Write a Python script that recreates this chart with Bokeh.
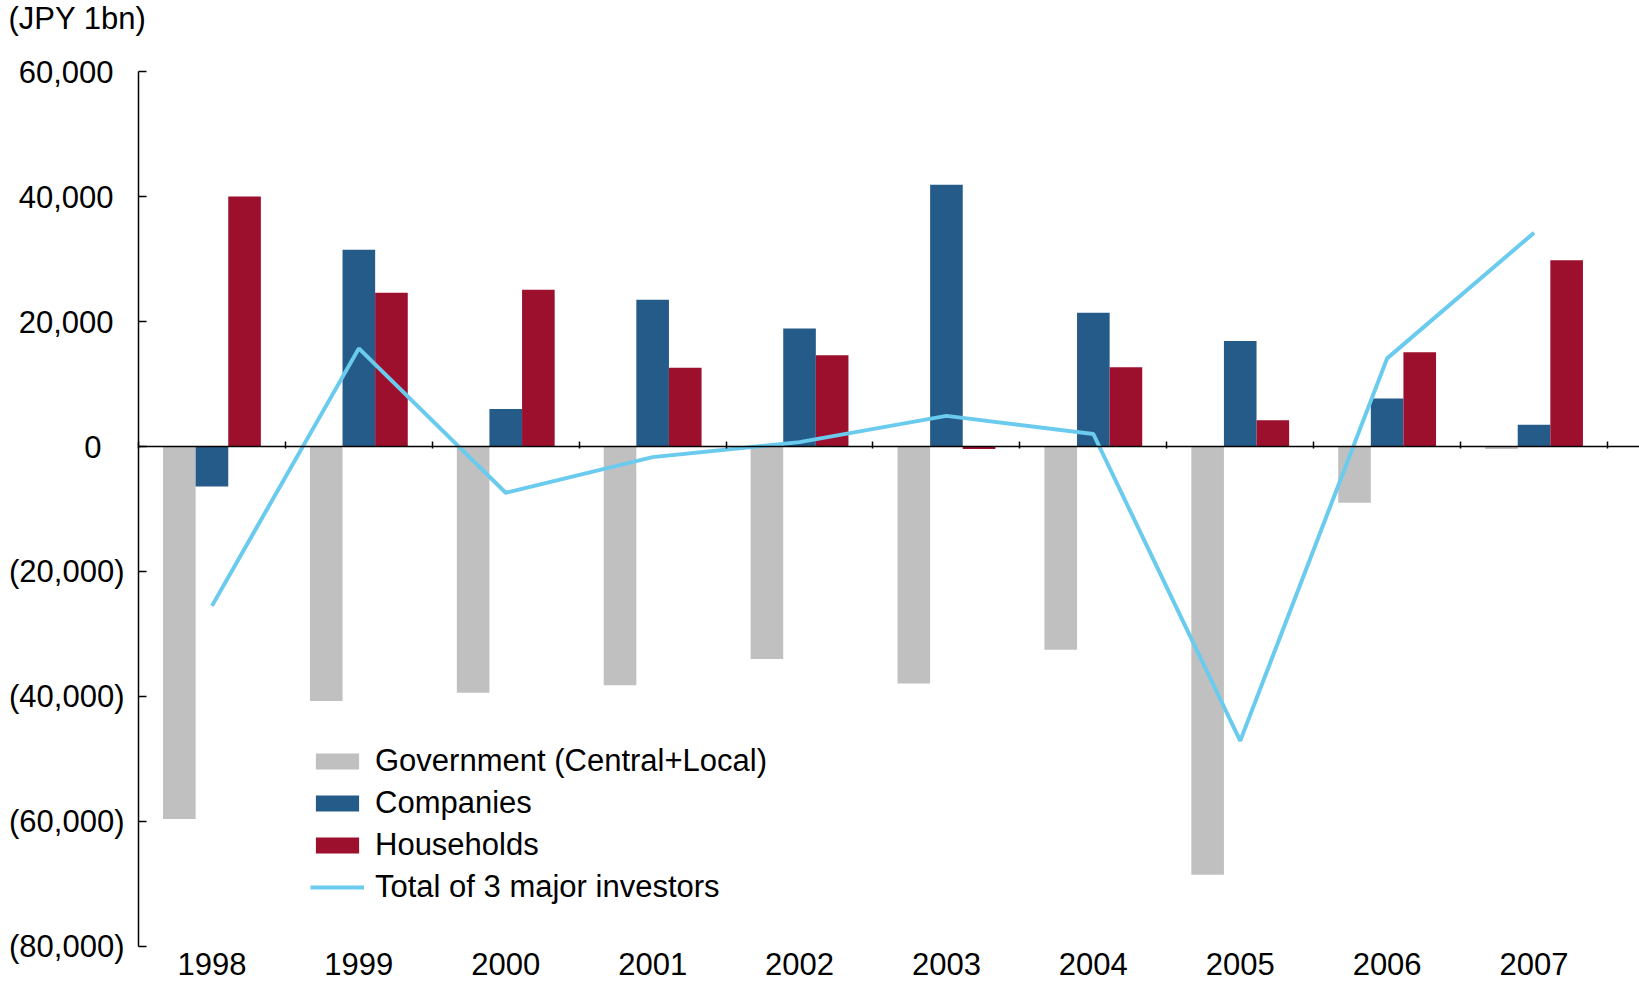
from bokeh.plotting import figure
from bokeh.models import (Range1d, LinearAxis, FixedTicker, Label, ColumnDataSource,
                          Legend, LegendItem)
from bokeh.transform import dodge
from bokeh.embed import file_html
from bokeh.resources import INLINE
import numpy as np

# ---- data (JPY 1bn) ----
years = ["1998", "1999", "2000", "2001", "2002", "2003", "2004", "2005", "2006", "2007"]
government = [-59600, -40700, -39400, -38200, -34000, -37900, -32500, -68500, -9000, -400]
companies = [-6400, 31500, 6000, 23500, 18900, 41900, 21400, 16900, 7700, 3500]
households = [40000, 24600, 25100, 12600, 14600, -400, 12700, 4200, 15100, 29800]
total = [-25500, 15700, -7400, -1700, 700, 4900, 2000, -47100, 14100, 34200]

y_ticks = [60000, 40000, 20000, 0, -20000, -40000, -60000, -80000]
y_tick_labels = ["60,000", "40,000", "20,000", "0", "(20,000)", "(40,000)", "(60,000)", "(80,000)"]
series_names = ["Government (Central+Local)", "Companies", "Households", "Total of 3 major investors"]
unit_label = "(JPY 1bn)"

# ---- style ----
FONT = "Liberation Sans"
FS = "31px"
GRAY = "#C0C0C0"
BLUE = "#245B88"
RED = "#9C0F2D"
CYAN = "#6ACBEE"

x = [float(v) for v in (np.arange(len(years)) + 0.5)]
src = ColumnDataSource(dict(x=x, government=government, companies=companies,
                            households=households, total=total))
label_of = {v: l for v, l in zip(y_ticks, y_tick_labels)}

# the frame covers the whole canvas; axes are drawn at fixed data locations
# and bounded to the value range (-80,000 .. 60,000) and the 10 categories
n = len(years)
p = figure(width=1639, height=983,
           x_range=Range1d(-0.9394, 10.218), y_range=Range1d(-85920, 71360),
           x_axis_type=None, y_axis_type=None,
           output_backend="svg", toolbar_location=None,
           min_border=0, min_border_left=0, min_border_right=0,
           min_border_top=0, min_border_bottom=0)
p.outline_line_color = None
p.background_fill_color = "white"
p.border_fill_color = "white"

bw = 0.222
r_gov = p.vbar(x=dodge("x", -bw), top="government", bottom=0, width=bw, source=src,
               fill_color=GRAY, line_color=None)
r_com = p.vbar(x=dodge("x", 0), top="companies", bottom=0, width=bw, source=src,
               fill_color=BLUE, line_color=None)
r_hh = p.vbar(x=dodge("x", bw), top="households", bottom=0, width=bw, source=src,
              fill_color=RED, line_color=None)
r_tot = p.line(x="x", y="total", source=src, line_color=CYAN, line_width=4)

# y axis: negative labels (with parentheses) sit further right than positive ones,
# as in accounting number formats; one axis per label group
groups = [([t for t in y_ticks if t < 0], 14, "black"),
          ([t for t in y_ticks if t > 0], 25, None),
          ([t for t in y_ticks if t == 0], 37, None)]
for ticks, standoff, line_color in groups:
    ax = LinearAxis(fixed_location=0, bounds=(min(y_ticks), max(y_ticks)),
                    ticker=FixedTicker(ticks=ticks),
                    major_label_overrides={t: label_of[t] for t in ticks},
                    major_tick_in=8, major_tick_out=0, minor_tick_line_color=None,
                    axis_line_color=line_color,
                    axis_line_width=1.5, major_tick_line_width=1.5,
                    major_label_standoff=standoff,
                    major_label_text_font=FONT, major_label_text_font_size=FS,
                    major_label_text_color="black")
    p.add_layout(ax, "left")

# zero line with category boundary ticks
zaxis = LinearAxis(fixed_location=0, bounds=(0, 10.218),
                   ticker=FixedTicker(ticks=list(range(n + 1))),
                   major_label_overrides={i: "" for i in range(n + 1)},
                   major_tick_in=5, major_tick_out=2, minor_tick_line_color=None,
                   axis_line_width=1.5, major_tick_line_width=1.5,
                   major_label_text_font_size="0px")
p.add_layout(zaxis, "below")

# category labels under the bottom of the value range
xaxis = LinearAxis(fixed_location=min(y_ticks),
                   ticker=FixedTicker(ticks=x),
                   major_label_overrides={v: l for v, l in zip(x, years)},
                   axis_line_color=None, major_tick_line_color=None,
                   major_tick_in=0, major_tick_out=0,
                   minor_tick_line_color=None, major_label_standoff=6,
                   major_label_text_font=FONT, major_label_text_font_size=FS,
                   major_label_text_color="black")
p.add_layout(xaxis, "below")

# unit label at the top-left corner
p.add_layout(Label(x=-0.885, y=68420, text=unit_label,
                   text_font=FONT, text_font_size=FS, text_color="black",
                   text_align="left", text_baseline="alphabetic"))

legend = Legend(items=[LegendItem(label=series_names[0], renderers=[r_gov]),
                       LegendItem(label=series_names[1], renderers=[r_com]),
                       LegendItem(label=series_names[2], renderers=[r_hh]),
                       LegendItem(label=series_names[3], renderers=[r_tot])],
                location=(310, 78), orientation="vertical",
                label_text_font=FONT, label_text_font_size=FS, label_text_color="black",
                glyph_width=54, glyph_height=20, label_standoff=11, spacing=6,
                padding=0, margin=0, border_line_color=None, background_fill_alpha=0)
p.add_layout(legend, "center")

open("out.html", "w").write(file_html(p, INLINE))
